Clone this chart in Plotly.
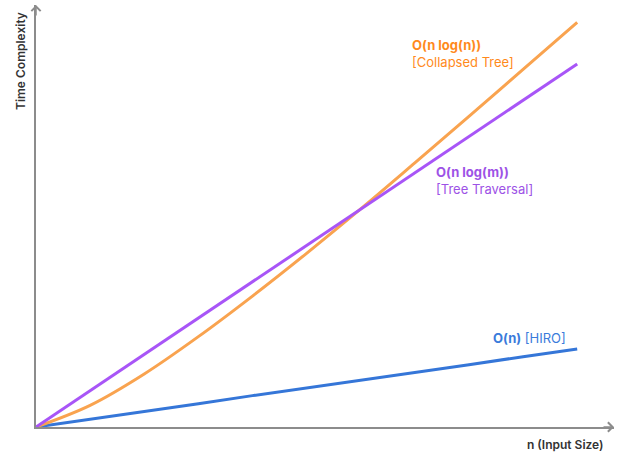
import plotly.graph_objects as go

n_values = [0, 1, 2, 3, 4, 5, 6, 7, 8, 9, 10]
collapsed_tree = [0, 0.40, 0.98, 1.67, 2.42, 3.21, 4.03, 4.88, 5.74, 6.61, 7.48]
tree_traversal = [0, 0.67, 1.34, 2.01, 2.68, 3.36, 4.03, 4.70, 5.37, 6.04, 6.71]
hiro = [0, 0.14, 0.29, 0.43, 0.58, 0.72, 0.86, 1.01, 1.15, 1.30, 1.44]

FONT = "Inter"
ORANGE_LINE = "#F9A34F"
ORANGE_TEXT = "#FF8A1C"
PURPLE_LINE = "#A855F7"
PURPLE_TEXT = "#9D52E6"
BLUE_LINE = "#3576D8"
BLUE_TEXT = "#3A7BDB"
AXIS = "#8C8C8C"

fig = go.Figure()
fig.add_trace(go.Scatter(x=n_values, y=hiro, mode="lines",
                         line=dict(color=BLUE_LINE, width=3), hoverinfo="skip"))
fig.add_trace(go.Scatter(x=n_values, y=collapsed_tree, mode="lines",
                         line=dict(color=ORANGE_LINE, width=3, shape="spline", smoothing=1.0),
                         hoverinfo="skip"))
fig.add_trace(go.Scatter(x=n_values, y=tree_traversal, mode="lines",
                         line=dict(color=PURPLE_LINE, width=3), hoverinfo="skip"))

fig.update_layout(
    width=624, height=453,
    margin=dict(l=36, r=10, t=5, b=26),
    paper_bgcolor="white", plot_bgcolor="white",
    showlegend=False,
    font=dict(family=FONT, size=13),
    xaxis=dict(range=[0, 10.68], showgrid=False, zeroline=False, showticklabels=False,
               ticks="", showline=True, linecolor=AXIS, linewidth=2),
    yaxis=dict(range=[0, 7.80], showgrid=False, zeroline=False, showticklabels=False,
               ticks="", showline=True, linecolor=AXIS, linewidth=2),
)

# arrow heads on axes
fig.add_annotation(x=1, y=0, xref="paper", yref="paper", ax=-12, ay=0,
                   showarrow=True, arrowhead=4, arrowsize=1.2, arrowwidth=1.5,
                   arrowcolor=AXIS, text="")
fig.add_annotation(x=0, y=1, xref="paper", yref="paper", ax=0, ay=12,
                   showarrow=True, arrowhead=4, arrowsize=1.2, arrowwidth=1.5,
                   arrowcolor=AXIS, text="")

# axis titles
fig.add_annotation(x=0, y=1, xref="paper", yref="paper", xshift=-16, yshift=-5,
                   text="Time Complexity", textangle=-90, showarrow=False,
                   xanchor="center", yanchor="top",
                   font=dict(size=12, color="#333333", weight=600))
fig.add_annotation(x=1, y=0, xref="paper", yref="paper", xshift=-8, yshift=-8,
                   text="n (Input Size)", showarrow=False,
                   xanchor="right", yanchor="top",
                   font=dict(size=12, color="#333333", weight=600))

# series labels
fig.add_annotation(x=6.91, y=6.90, text="<b>O(n log(n))</b><br>[Collapsed Tree]",
                   showarrow=False, xanchor="left", yanchor="middle", align="left",
                   font=dict(size=13, color=ORANGE_TEXT))
fig.add_annotation(x=7.36, y=4.55, text="<b>O(n log(m))</b><br>[Tree Traversal]",
                   showarrow=False, xanchor="left", yanchor="middle", align="left",
                   font=dict(size=13, color=PURPLE_TEXT))
fig.add_annotation(x=8.41, y=1.645, text="<b>O(n)</b> [HIRO]",
                   showarrow=False, xanchor="left", yanchor="middle", align="left",
                   font=dict(size=13, color=BLUE_TEXT))

fig.write_html("out.html", config={"displayModeBar": False},
               post_script="document.body.style.margin='0';document.body.style.overflow='hidden';")
